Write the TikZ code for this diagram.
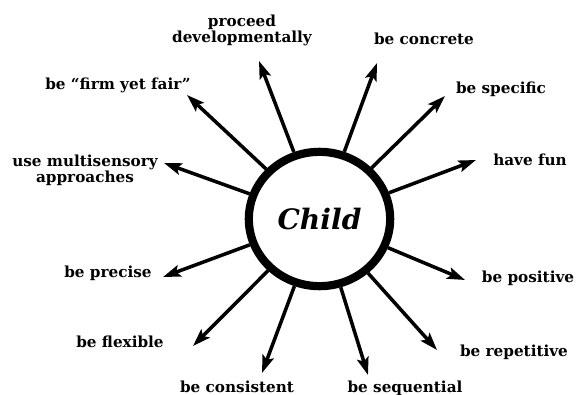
\documentclass[tikz,border=0pt]{standalone}
\usepackage{fontspec}
\setmainfont{DejaVu Serif}
\usetikzlibrary{arrows.meta,shapes.geometric}
\tikzset{
  hub/.style={ellipse, draw=black, line width=7pt, inner sep=0pt,
              minimum width=4.24cm, minimum height=4.03cm,
              font=\fontsize{24}{28}\selectfont\bfseries\itshape},
  spoke/.style={-{Stealth[length=15pt, width=10pt, inset=3pt]}, line width=3pt},
  lbl/.style={font=\fontsize{13}{14.5}\selectfont\bfseries, align=center,
              inner sep=0pt, anchor=base}
}

\begin{document}
\begin{tikzpicture}[x=0.03cm, y=-0.03cm]
\useasboundingbox (0,0) rectangle (576,395);

%% Hub
\node[hub] (child) at (319.5, 219) {Child};

%% Spokes -- arrow tips, clockwise from the top
\foreach \n/\x/\y in {proceed/259/61, concrete/377/63, specific/445/96,
                      fun/476/160, positive/465/280, repetitive/437/350,
                      sequential/368/375, consistent/262/373, flexible/193/346,
                      precise/163/277, multi/164/163, firm/187/95} {
  \coordinate (tip\n) at (\x, \y);
  \draw[spoke] (child) -- (tip\n);
}

%% Labels (two-line ones sit on their last baseline)
\node[lbl] (lproceed)    at (242, 43)  {proceed\\developmentally};
\node[lbl] (lconcrete)   at (424, 45)  {be concrete};
\node[lbl] (lspecific)   at (501, 94)  {be specific};
\node[lbl] (lfun)        at (530, 166) {have fun};
\node[lbl] (lpositive)   at (528, 282) {be positive};
\node[lbl] (lrepetitive) at (514, 357) {be repetitive};
\node[lbl] (lsequential) at (405, 392) {be sequential};
\node[lbl] (lconsistent) at (237, 392) {be consistent};
\node[lbl] (lflexible)   at (120, 347) {be flexible};
\node[lbl] (lprecise)    at (108, 277) {be precise};
\node[lbl] (lmulti)      at (85, 183)  {use multisensory\\approaches};
\node[lbl] (lfirm)       at (118, 90)  {be “firm yet fair”};

\end{tikzpicture}
\end{document}
